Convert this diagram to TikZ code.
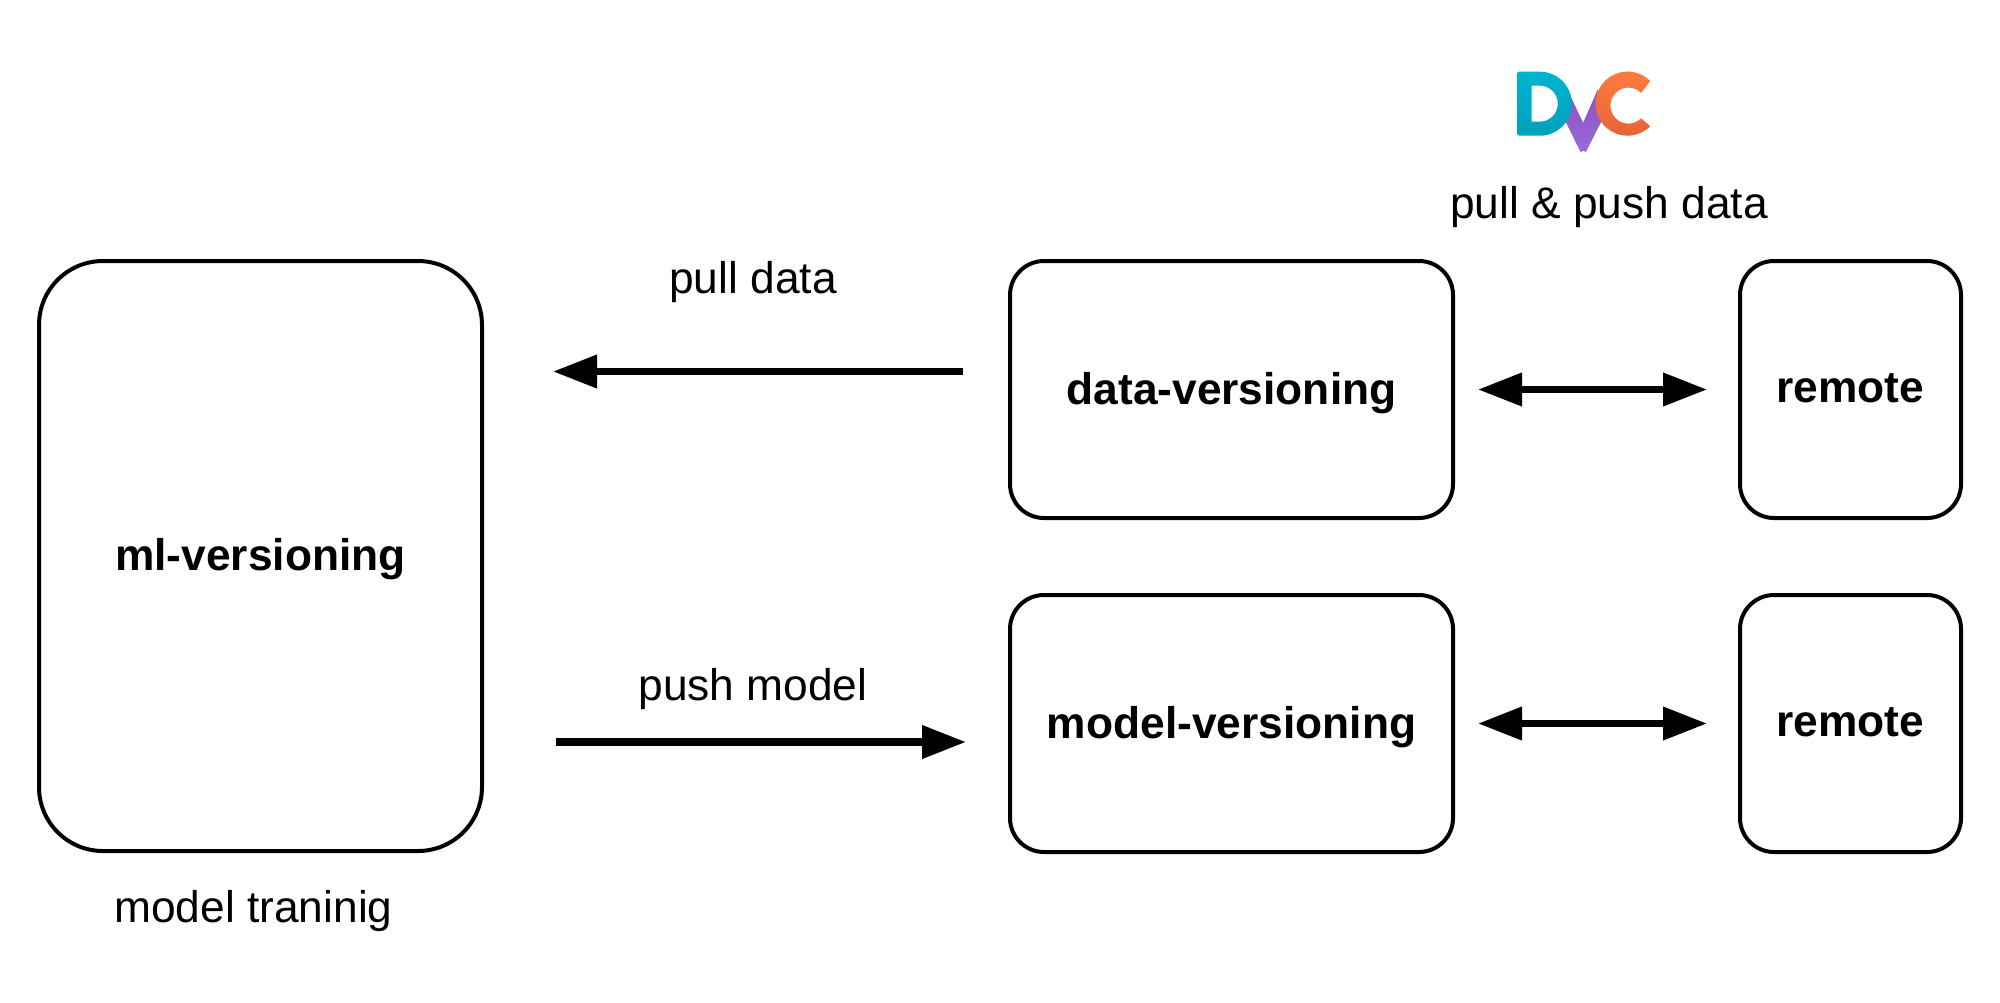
\documentclass[tikz,border=0pt]{standalone}
\usepackage{fontspec}
\setmainfont{Liberation Sans}
\usetikzlibrary{arrows.meta,positioning}
\definecolor{dvcteal}{HTML}{00B4D0}
\definecolor{dvctealdark}{HTML}{00A0BC}
\definecolor{dvcpurple}{HTML}{8A52C2}
\definecolor{dvcpurplelight}{HTML}{9C68DA}
\definecolor{dvcorange}{HTML}{FF7D3C}
\definecolor{dvcorangedark}{HTML}{E5623A}

\begin{document}
\begin{tikzpicture}[
  node distance=36.5pt and 141.5pt,
  box/.style={draw, line width=2pt, align=center, font=\fontsize{22.15}{26}\selectfont\bfseries, inner sep=0pt, text depth=1.2pt},
  wide/.style={box, rounded corners=17pt, minimum width=221.5pt, minimum height=128.5pt},
  remotebox/.style={box, rounded corners=17pt, minimum width=110.5pt, minimum height=128.5pt},
  lbl/.style={font=\fontsize{22.15}{26}\selectfont, inner sep=0pt},
  arr/.style={-{Triangle[length=22pt, width=16pt]}, line width=3.6pt},
  darr/.style={{Triangle[length=22pt, width=16pt]}-{Triangle[length=22pt, width=16pt]}, line width=3.6pt, shorten <=11.5pt, shorten >=15.5pt}
]
  \useasboundingbox (0,0) rectangle (1000pt,-501pt);
  % boxes
  \node[box, rounded corners=32pt, minimum width=221.5pt, minimum height=295pt] (ml) at (130.25pt,-278pt) {ml-versioning};
  \node[wide, right=262pt of ml.north east, anchor=north west] (data) {data-versioning};
  \node[wide, below=of data] (model) {model-versioning};
  \node[remotebox, right=of data] (remote1) {remote};
  \node[remotebox, right=of model] (remote2) {remote};
  % labels
  \node[lbl, below=18.5pt of ml, xshift=-3.5pt] (training) {model traninig};
  \node[lbl, above=43.3pt of data.west, xshift=-127.5pt] (pull) {pull data};
  \node[lbl, above=6.5pt of model.west, xshift=-127.5pt] (push) {push model};
  \node[lbl, above=15.5pt of data.north east, xshift=77pt] (both) {pull \& push data};
  % arrows
  \draw[arr, shorten >=34.5pt, shorten <=22.5pt] ([yshift=9pt]data.west) -- ([yshift=9pt]data.west -| ml.east);
  \draw[arr, shorten <=36pt, shorten >=21pt] ([yshift=-9.25pt]model.west -| ml.east) -- ([yshift=-9.25pt]model.west);
  \draw[darr] (data) -- (remote1);
  \draw[darr] (model) -- (remote2);
  % logo
  \begin{scope}[shift={(739.9pt,-25pt)}, x=0.1667pt, y=-0.1667pt]
    \shade[top color=dvcpurple, bottom color=dvcpurplelight] (262,118) -- (310,218) -- (354,118) -- (372,200) -- (318,306) to[out=120,in=60] (302,306) -- (250,200) -- cycle;
    \shade[top color=dvcteal, bottom color=dvctealdark, even odd rule]
      (118,65) -- (180,65) arc[start angle=-90, end angle=90, radius=96] -- (118,257) to[out=180,in=90] (112,251) -- (112,71) to[out=90,in=180] cycle
      (155,107) -- (155,215) -- (180,215) arc[start angle=90, end angle=-90, radius=54] -- cycle;
    \shade[top color=dvcorange, bottom color=dvcorangedark]
      (511,93) arc[start angle=-45, end angle=-315, radius=96] -- (484,205) arc[start angle=-315, end angle=-45, radius=54] -- cycle;
  \end{scope}
\end{tikzpicture}
\end{document}
